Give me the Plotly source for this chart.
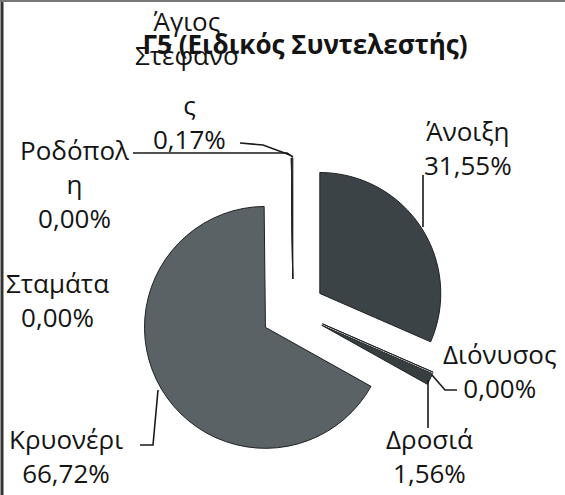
import plotly.graph_objects as go

W, H = 565, 495

# data: share of the special coefficient per settlement (clockwise from 12 o'clock)
towns = ['Άνοιξη', 'Διόνυσος', 'Δροσιά', 'Κρυονέρι', 'Σταμάτα', 'Ροδόπολη', 'Άγιος Στέφανος']
shares = [31.55, 0.00, 1.56, 66.72, 0.00, 0.00, 0.17]

# how the label text was wrapped in the original (blocks of lines)
wrapped = {
    'Ροδόπολη': ['Ροδόπολ<br>η'],
    'Άγιος Στέφανος': ['Άγιος<br>Στέφανο', 'ς'],
}

slice_colors = ['#3c4346', '#3c4346', '#383d40', '#5a6266', '#5a6266', '#5a6266', '#3c4346']

# label block centres in pixels (layout only), one per text block
label_pos = {
    'Άνοιξη': [(468, 148)],
    'Διόνυσος': [(500, 371)],
    'Δροσιά': [(429, 456)],
    'Κρυονέρι': [(66, 456)],
    'Σταμάτα': [(57, 300)],
    'Ροδόπολη': [(74, 184)],
    'Άγιος Στέφανος': [(187, 38), (189, 122)],
}

# leader lines in pixels (layout only)
leaders = [
    [(423, 175), (423, 227)],
    [(432, 375), (445, 390), (457, 390)],
    [(428, 380), (428, 428)],
    [(140, 445), (153, 445), (158, 390)],
    [(133, 153), (287, 153), (293, 157)],
    [(240, 143), (263, 145), (290, 155)],
]


def px(x, y):
    return x / W, 1 - y / H


def pct(v):
    return f'{v:.2f}'.replace('.', ',') + '%'


fig = go.Figure(go.Pie(
    labels=towns,
    values=shares,
    sort=False,
    direction='clockwise',
    rotation=0,
    pull=0.265,
    textinfo='none',
    hoverinfo='label+percent',
    marker=dict(colors=slice_colors, line=dict(color='#1e2224', width=1)),
    domain=dict(x=[140 / W, 446 / W], y=[31 / H, 337 / H]),
    showlegend=False,
))

annotations = []
for t, v in zip(towns, shares):
    blocks = list(wrapped.get(t, [t]))
    blocks[-1] = blocks[-1] + '<br>' + pct(v)
    for text, (x, y) in zip(blocks, label_pos[t]):
        ax, ay = px(x, y)
        annotations.append(dict(
            x=ax, y=ay, xref='paper', yref='paper', text=text,
            showarrow=False, xanchor='center', yanchor='middle', align='center',
            font=dict(family='Open Sans', size=26, color='#141414'),
        ))

shapes = []
for pts in leaders:
    path = 'M ' + ' L '.join(f'{px(x, y)[0]:.5f},{px(x, y)[1]:.5f}' for x, y in pts)
    shapes.append(dict(type='path', xref='paper', yref='paper', path=path,
                       line=dict(color='#1a1a1a', width=1.6)))

# scanned frame: dark left edge, grey top edge
shapes.append(dict(type='line', xref='paper', yref='paper', x0=2 / W, x1=2 / W, y0=0, y1=1,
                   line=dict(color='#333333', width=3)))
shapes.append(dict(type='line', xref='paper', yref='paper', x0=0, x1=1, y0=1 - 1 / H, y1=1 - 1 / H,
                   line=dict(color='#777777', width=2)))

fig.update_layout(
    width=W, height=H,
    margin=dict(l=0, r=0, t=0, b=0),
    paper_bgcolor='white',
    plot_bgcolor='white',
    title=dict(text='<b>Γ5 (Ειδικός Συντελεστής)</b>', x=305 / W, xanchor='center',
               y=1 - 45 / H, yanchor='middle',
               font=dict(family='Open Sans', size=26, color='#141414')),
    annotations=annotations,
    shapes=shapes,
)

# drop the default page margin so the figure fills the window exactly
fig.write_html('out.html', config={'displayModeBar': False},
               post_script="document.body.style.margin='0';document.body.style.overflow='hidden';")
